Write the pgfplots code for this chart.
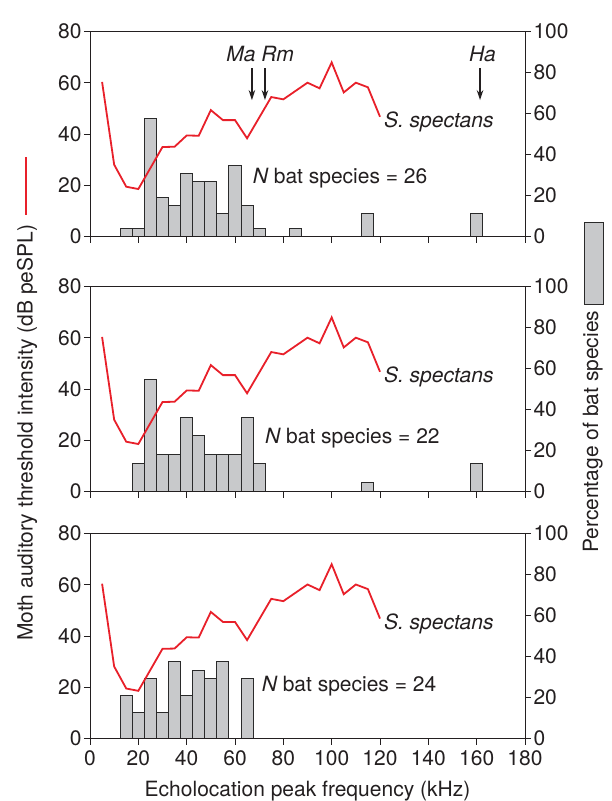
\documentclass[border=0pt]{standalone}
\usepackage{fontspec}
\setmainfont{TeX Gyre Heros}
\usepackage{pgfplots}
\pgfplotsset{compat=1.18}
\usetikzlibrary{arrows.meta}
\definecolor{barfill}{HTML}{C8C9CB}
\definecolor{bardraw}{HTML}{2A2A2A}
\definecolor{axcol}{HTML}{231F20}
\definecolor{audred}{HTML}{E8202A}

\pgfplotstableread{
x y
5 60.4
10 28.1
15 19.5
20 18.6
30 35.0
35 35.1
40 39.5
45 39.4
50 49.4
55 45.5
60 45.5
65 38.4
75 54.5
80 53.6
90 60.1
95 57.9
100 68.0
105 56.3
110 60.1
115 58.3
120 46.8
}\audiogram

\pgfplotstableread{
x p
15 3.85
20 3.85
25 57.7
30 19.2
35 15.4
40 30.8
45 26.9
50 26.9
55 11.5
60 34.6
65 15.4
70 3.85
85 3.85
115 11.5
160 11.5
}\topend

\pgfplotstableread{
x p
20 13.6
25 54.5
30 18.2
35 18.2
40 36.4
45 27.3
50 18.2
55 18.2
60 18.2
65 36.4
70 13.6
115 4.5
160 13.6
}\northq

\pgfplotstableread{
x p
15 20.8
20 12.5
25 29.2
30 12.5
35 37.5
40 20.8
45 33.3
50 29.2
55 37.5
65 29.2
}\brisbane

\newcommand{\fs}{\fontsize{21bp}{25bp}\selectfont}

\pgfplotsset{
  base/.style={
    width=435bp, height=205bp, scale only axis,
    xmin=0, xmax=180,
    /pgf/number format/assume math mode=true,
    tick align=outside,
    major tick length=6bp,
    axis line style={axcol, line width=1bp},
    every tick/.style={axcol, line width=1bp},
    tick label style={font=\fs, text=axcol},
  },
  barax/.style={base,
    ymin=0, ymax=100, ytick={0,20,...,100},
    axis y line*=right, axis x line=none,
    ybar, bar width=5, bar shift=0pt,
    yticklabel style={anchor=west, xshift=-1bp},
  },
  lineax/.style={base,
    ymin=0, ymax=80, ytick={0,20,...,80},
    xtick={0,20,...,180},
    xtick pos=lower, ytick pos=left,
    yticklabel style={anchor=east, xshift=1bp},
    xticklabel style={yshift=-3bp},
  },
  barsty/.style={fill=barfill, draw=bardraw, line width=1bp},
  redsty/.style={audred, line width=1.8bp},
}

\begin{document}
\begin{tikzpicture}[font=\fs]
\useasboundingbox (-90bp,-62.5bp) rectangle (522bp,738.5bp);

% ---------- Panel 1 ----------
\begin{axis}[barax, at={(0bp,501.8bp)}, anchor=south west]
\addplot[barsty] table[x=x,y=p]{\topend};
\end{axis}
\begin{axis}[lineax, at={(0bp,501.8bp)}, anchor=south west, xticklabels={}]
\addplot[redsty] table[x=x,y=y]{\audiogram};
\node[anchor=base west, inner sep=0pt, text=axcol] at (rel axis cs:0,1) [yshift=7bp] {Top End Northern Territory};
\node[anchor=west, inner sep=0pt, text=axcol] at (axis cs:121.6,44.9) {\itshape S. spectans};
\node[anchor=west, inner sep=0pt, text=axcol] at (axis cs:67.3,22.8) {{\itshape N} bat species = 26};
\node[anchor=base east, inner sep=0pt, text=axcol] at (axis cs:68.6,68.3) {\itshape Ma};
\node[anchor=base west, inner sep=0pt, text=axcol] at (axis cs:70.8,68.3) {\itshape Rm};
\node[anchor=base, inner sep=0pt, text=axcol] at (axis cs:162.4,68.3) {\itshape Ha};
\draw[axcol, line width=1.5bp, -{Stealth[length=10bp,width=6.5bp]}] (axis cs:67,65.7) -- (axis cs:67,53.3);
\draw[axcol, line width=1.5bp, -{Stealth[length=10bp,width=6.5bp]}] (axis cs:72.4,65.7) -- (axis cs:72.4,53.3);
\draw[axcol, line width=1.5bp, -{Stealth[length=10bp,width=6.5bp]}] (axis cs:161.4,65.7) -- (axis cs:161.4,53.3);
\end{axis}

% ---------- Panel 2 ----------
\begin{axis}[barax, at={(0bp,246.8bp)}, anchor=south west]
\addplot[barsty] table[x=x,y=p]{\northq};
\end{axis}
\begin{axis}[lineax, at={(0bp,246.8bp)}, anchor=south west, xticklabels={}]
\addplot[redsty] table[x=x,y=y]{\audiogram};
\node[anchor=base west, inner sep=0pt, text=axcol] at (rel axis cs:0,1) [yshift=7bp] {Northern Queensland};
\node[anchor=west, inner sep=0pt, text=axcol] at (axis cs:121.6,44.9) {\itshape S. spectans};
\node[anchor=west, inner sep=0pt, text=axcol] at (axis cs:72.4,20.8) {{\itshape N} bat species = 22};
\end{axis}

% ---------- Panel 3 ----------
\begin{axis}[barax, at={(0bp,0bp)}, anchor=south west]
\addplot[barsty] table[x=x,y=p]{\brisbane};
\end{axis}
\begin{axis}[lineax, at={(0bp,0bp)}, anchor=south west]
\addplot[redsty] table[x=x,y=y]{\audiogram};
\node[anchor=base west, inner sep=0pt, text=axcol] at (rel axis cs:0,1) [yshift=7bp] {Brisbane};
\node[anchor=west, inner sep=0pt, text=axcol] at (axis cs:121.6,44.6) {\itshape S. spectans};
\node[anchor=west, inner sep=0pt, text=axcol] at (axis cs:71,20.4) {{\itshape N} bat species = 24};
\end{axis}

% ---------- outer labels ----------
\node[anchor=base, inner sep=0pt, text=axcol] at (217.5bp,-58bp) {Echolocation peak frequency (kHz)};
\node[rotate=90, anchor=base west, inner sep=0pt, text=axcol] at (-57.3bp,97.5bp)
  {Moth auditory threshold intensity (dB peSPL)\hspace{10bp}\textcolor{audred}{\rule[6bp]{58bp}{2bp}}};
\node[rotate=90, anchor=base west, inner sep=0pt, text=axcol] at (508bp,185.5bp)
  {Percentage of bat species\hspace{6bp}\raisebox{-4.5bp}{\setlength{\fboxsep}{0pt}\setlength{\fboxrule}{1bp}\fcolorbox{bardraw}{barfill}{\rule{0pt}{18bp}\rule{81bp}{0pt}}}};
\end{tikzpicture}
\end{document}
